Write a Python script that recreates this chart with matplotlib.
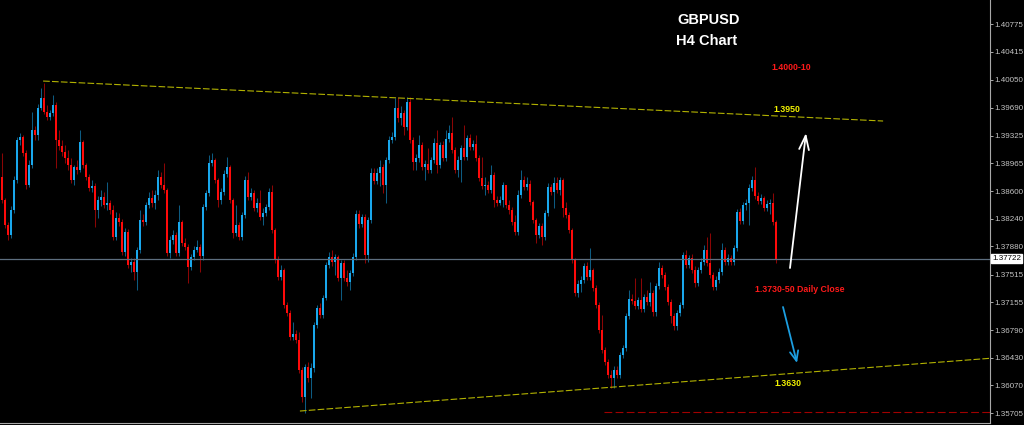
import numpy as np
import matplotlib.pyplot as plt

# GBPUSD H4 candles
opens = [
    1.3879, 1.3849, 1.3816, 1.3803, 1.3836, 1.3875, 1.3927, 1.3931, 1.3910, 1.3868,
    1.3894, 1.3940, 1.3933, 1.3969, 1.3982, 1.3963, 1.3957, 1.3962, 1.3972, 1.3927,
    1.3919, 1.3911, 1.3903, 1.3894, 1.3875, 1.3892, 1.3888, 1.3924, 1.3894, 1.3879,
    1.3864, 1.3867, 1.3836, 1.3849, 1.3853, 1.3842, 1.3845, 1.3836, 1.3800, 1.3825,
    1.3820, 1.3781, 1.3807, 1.3764, 1.3768, 1.3755, 1.3784, 1.3823, 1.3820, 1.3842,
    1.3851, 1.3845, 1.3855, 1.3879, 1.3868, 1.3862, 1.3780, 1.3797, 1.3803, 1.3780,
    1.3820, 1.3793, 1.3787, 1.3761, 1.3774, 1.3784, 1.3787, 1.3776, 1.3840, 1.3858,
    1.3897, 1.3901, 1.3875, 1.3849, 1.3859, 1.3883, 1.3892, 1.3849, 1.3806, 1.3816,
    1.3800, 1.3829, 1.3875, 1.3853, 1.3858, 1.3838, 1.3845, 1.3827, 1.3832, 1.3840,
    1.3859, 1.3810, 1.3771, 1.3748, 1.3757, 1.3712, 1.3701, 1.3670, 1.3674, 1.3666,
    1.3627, 1.3592, 1.3631, 1.3617, 1.3630, 1.3686, 1.3708, 1.3699, 1.3721, 1.3764,
    1.3774, 1.3768, 1.3774, 1.3747, 1.3767, 1.3747, 1.3742, 1.3754, 1.3774, 1.3830,
    1.3817, 1.3827, 1.3777, 1.3823, 1.3884, 1.3873, 1.3884, 1.3892, 1.3868, 1.3901,
    1.3927, 1.3931, 1.3969, 1.3956, 1.3962, 1.3944, 1.3976, 1.3927, 1.3898, 1.3903,
    1.3920, 1.3892, 1.3896, 1.3888, 1.3901, 1.3923, 1.3894, 1.3920, 1.3903, 1.3928,
    1.3936, 1.3914, 1.3888, 1.3901, 1.3916, 1.3905, 1.3929, 1.3918, 1.3922, 1.3903,
    1.3877, 1.3867, 1.3868, 1.3862, 1.3881, 1.3849, 1.3845, 1.3849, 1.3868, 1.3842,
    1.3836, 1.3820, 1.3807, 1.3855, 1.3875, 1.3866, 1.3870, 1.3846, 1.3823, 1.3803,
    1.3815, 1.3800, 1.3832, 1.3866, 1.3859, 1.3871, 1.3862, 1.3875, 1.3838, 1.3829,
    1.3810, 1.3771, 1.3728, 1.3739, 1.3744, 1.3763, 1.3748, 1.3757, 1.3734, 1.3712,
    1.3679, 1.3653, 1.3638, 1.3621, 1.3617, 1.3627, 1.3621, 1.3647, 1.3656, 1.3698,
    1.3720, 1.3717, 1.3711, 1.3718, 1.3707, 1.3722, 1.3716, 1.3728, 1.3703, 1.3737,
    1.3760, 1.3751, 1.3735, 1.3716, 1.3698, 1.3685, 1.3701, 1.3712, 1.3777, 1.3764,
    1.3773, 1.3757, 1.3741, 1.3757, 1.3768, 1.3784, 1.3767, 1.3751, 1.3735, 1.3744,
    1.3755, 1.3784, 1.3768, 1.3773, 1.3768, 1.3786, 1.3833, 1.3821, 1.3842, 1.3845,
    1.3864, 1.3875, 1.3854, 1.3847, 1.3851, 1.3838, 1.3843, 1.3845, 1.3820,
]
closes = [
    1.3849, 1.3816, 1.3803, 1.3836, 1.3875, 1.3927, 1.3931, 1.3910, 1.3868, 1.3894,
    1.3940, 1.3933, 1.3969, 1.3982, 1.3963, 1.3957, 1.3962, 1.3972, 1.3927, 1.3919,
    1.3911, 1.3903, 1.3894, 1.3875, 1.3892, 1.3888, 1.3924, 1.3894, 1.3879, 1.3864,
    1.3867, 1.3836, 1.3849, 1.3853, 1.3842, 1.3845, 1.3836, 1.3800, 1.3825, 1.3820,
    1.3781, 1.3807, 1.3764, 1.3768, 1.3755, 1.3784, 1.3823, 1.3820, 1.3842, 1.3851,
    1.3845, 1.3855, 1.3879, 1.3868, 1.3862, 1.3780, 1.3797, 1.3803, 1.3780, 1.3820,
    1.3793, 1.3787, 1.3761, 1.3774, 1.3784, 1.3787, 1.3776, 1.3840, 1.3858, 1.3897,
    1.3901, 1.3875, 1.3849, 1.3859, 1.3883, 1.3892, 1.3849, 1.3806, 1.3816, 1.3800,
    1.3829, 1.3875, 1.3853, 1.3858, 1.3838, 1.3845, 1.3827, 1.3832, 1.3840, 1.3859,
    1.3810, 1.3771, 1.3748, 1.3757, 1.3712, 1.3701, 1.3670, 1.3674, 1.3666, 1.3627,
    1.3592, 1.3631, 1.3617, 1.3630, 1.3686, 1.3708, 1.3699, 1.3721, 1.3764, 1.3774,
    1.3768, 1.3774, 1.3747, 1.3767, 1.3747, 1.3742, 1.3754, 1.3774, 1.3830, 1.3817,
    1.3827, 1.3777, 1.3823, 1.3884, 1.3873, 1.3884, 1.3892, 1.3868, 1.3901, 1.3927,
    1.3931, 1.3969, 1.3956, 1.3962, 1.3944, 1.3976, 1.3927, 1.3898, 1.3903, 1.3920,
    1.3892, 1.3896, 1.3888, 1.3901, 1.3923, 1.3894, 1.3920, 1.3903, 1.3928, 1.3936,
    1.3914, 1.3888, 1.3901, 1.3916, 1.3905, 1.3929, 1.3918, 1.3922, 1.3903, 1.3877,
    1.3867, 1.3868, 1.3862, 1.3881, 1.3849, 1.3845, 1.3849, 1.3868, 1.3842, 1.3836,
    1.3820, 1.3807, 1.3855, 1.3875, 1.3866, 1.3870, 1.3846, 1.3823, 1.3803, 1.3815,
    1.3800, 1.3832, 1.3866, 1.3859, 1.3871, 1.3862, 1.3875, 1.3838, 1.3829, 1.3810,
    1.3771, 1.3728, 1.3739, 1.3744, 1.3763, 1.3748, 1.3757, 1.3734, 1.3712, 1.3679,
    1.3653, 1.3638, 1.3621, 1.3617, 1.3627, 1.3621, 1.3647, 1.3656, 1.3698, 1.3720,
    1.3717, 1.3711, 1.3718, 1.3707, 1.3722, 1.3716, 1.3728, 1.3703, 1.3737, 1.3760,
    1.3751, 1.3735, 1.3716, 1.3698, 1.3685, 1.3701, 1.3712, 1.3777, 1.3764, 1.3773,
    1.3757, 1.3741, 1.3757, 1.3768, 1.3784, 1.3767, 1.3751, 1.3735, 1.3744, 1.3755,
    1.3784, 1.3768, 1.3773, 1.3768, 1.3786, 1.3833, 1.3821, 1.3842, 1.3845, 1.3864,
    1.3875, 1.3854, 1.3847, 1.3851, 1.3838, 1.3843, 1.3845, 1.3820, 1.37722,
]
highs = [
    1.3910, 1.3851, 1.3820, 1.3841, 1.3880, 1.3931, 1.3936, 1.3933, 1.3914, 1.3901,
    1.3963, 1.3945, 1.3974, 1.3995, 1.4001, 1.3972, 1.3966, 1.3986, 1.3976, 1.3940,
    1.3927, 1.3920, 1.3914, 1.3903, 1.3894, 1.3901, 1.3940, 1.3927, 1.3897, 1.3883,
    1.3875, 1.3871, 1.3854, 1.3862, 1.3859, 1.3872, 1.3849, 1.3842, 1.3833, 1.3832,
    1.3824, 1.3812, 1.3811, 1.3773, 1.3773, 1.3787, 1.3836, 1.3830, 1.3846, 1.3859,
    1.3862, 1.3862, 1.3888, 1.3885, 1.3897, 1.3864, 1.3802, 1.3810, 1.3807, 1.3842,
    1.3823, 1.3799, 1.3791, 1.3778, 1.3789, 1.3797, 1.3791, 1.3843, 1.3862, 1.3907,
    1.3910, 1.3903, 1.3877, 1.3864, 1.3888, 1.3905, 1.3894, 1.3851, 1.3842, 1.3820,
    1.3833, 1.3880, 1.3885, 1.3864, 1.3862, 1.3851, 1.3862, 1.3838, 1.3843, 1.3864,
    1.3868, 1.3812, 1.3776, 1.3764, 1.3760, 1.3716, 1.3705, 1.3690, 1.3679, 1.3677,
    1.3631, 1.3635, 1.3638, 1.3636, 1.3690, 1.3712, 1.3714, 1.3725, 1.3768, 1.3781,
    1.3784, 1.3778, 1.3777, 1.3771, 1.3771, 1.3757, 1.3757, 1.3780, 1.3836, 1.3836,
    1.3830, 1.3830, 1.3827, 1.3890, 1.3890, 1.3890, 1.3901, 1.3896, 1.3905, 1.3932,
    1.3937, 1.3982, 1.3983, 1.3971, 1.3966, 1.3983, 1.3983, 1.3931, 1.3909, 1.3933,
    1.3924, 1.3901, 1.3916, 1.3905, 1.3929, 1.3940, 1.3924, 1.3926, 1.3940, 1.3946,
    1.3957, 1.3918, 1.3906, 1.3920, 1.3946, 1.3933, 1.3935, 1.3927, 1.3933, 1.3907,
    1.3905, 1.3879, 1.3873, 1.3894, 1.3885, 1.3854, 1.3854, 1.3872, 1.3868, 1.3849,
    1.3840, 1.3829, 1.3862, 1.3888, 1.3880, 1.3879, 1.3875, 1.3849, 1.3825, 1.3819,
    1.3819, 1.3836, 1.3871, 1.3870, 1.3879, 1.3879, 1.3879, 1.3877, 1.3846, 1.3833,
    1.3812, 1.3773, 1.3744, 1.3750, 1.3767, 1.3768, 1.3786, 1.3760, 1.3738, 1.3716,
    1.3699, 1.3657, 1.3641, 1.3627, 1.3632, 1.3632, 1.3651, 1.3660, 1.3701, 1.3731,
    1.3726, 1.3747, 1.3722, 1.3747, 1.3726, 1.3731, 1.3742, 1.3731, 1.3741, 1.3768,
    1.3764, 1.3755, 1.3739, 1.3720, 1.3701, 1.3705, 1.3716, 1.3781, 1.3784, 1.3777,
    1.3778, 1.3763, 1.3761, 1.3773, 1.3790, 1.3800, 1.3806, 1.3755, 1.3750, 1.3760,
    1.3793, 1.3787, 1.3778, 1.3777, 1.3790, 1.3837, 1.3838, 1.3846, 1.3850, 1.3870,
    1.3880, 1.3892, 1.3859, 1.3857, 1.3854, 1.3849, 1.3850, 1.3858, 1.3823,
]
lows = [
    1.3845, 1.3812, 1.3797, 1.3799, 1.3832, 1.3871, 1.3920, 1.3906, 1.3863, 1.3866,
    1.3890, 1.3927, 1.3927, 1.3966, 1.3961, 1.3953, 1.3953, 1.3958, 1.3890, 1.3914,
    1.3906, 1.3897, 1.3888, 1.3871, 1.3868, 1.3883, 1.3885, 1.3890, 1.3875, 1.3860,
    1.3859, 1.3814, 1.3825, 1.3841, 1.3838, 1.3836, 1.3830, 1.3797, 1.3797, 1.3815,
    1.3777, 1.3776, 1.3760, 1.3755, 1.3744, 1.3731, 1.3780, 1.3815, 1.3816, 1.3838,
    1.3840, 1.3837, 1.3849, 1.3864, 1.3858, 1.3776, 1.3773, 1.3791, 1.3776, 1.3776,
    1.3789, 1.3784, 1.3741, 1.3757, 1.3771, 1.3781, 1.3755, 1.3771, 1.3836, 1.3854,
    1.3893, 1.3871, 1.3840, 1.3843, 1.3855, 1.3879, 1.3845, 1.3799, 1.3802, 1.3797,
    1.3797, 1.3825, 1.3849, 1.3849, 1.3834, 1.3833, 1.3823, 1.3816, 1.3828, 1.3836,
    1.3806, 1.3767, 1.3744, 1.3744, 1.3708, 1.3698, 1.3666, 1.3666, 1.3662, 1.3623,
    1.3585, 1.3571, 1.3611, 1.3591, 1.3624, 1.3682, 1.3695, 1.3695, 1.3718, 1.3760,
    1.3763, 1.3751, 1.3743, 1.3718, 1.3743, 1.3737, 1.3731, 1.3750, 1.3771, 1.3812,
    1.3814, 1.3767, 1.3768, 1.3819, 1.3870, 1.3870, 1.3867, 1.3858, 1.3845, 1.3897,
    1.3923, 1.3927, 1.3950, 1.3946, 1.3933, 1.3940, 1.3923, 1.3888, 1.3888, 1.3898,
    1.3888, 1.3875, 1.3884, 1.3884, 1.3897, 1.3884, 1.3890, 1.3900, 1.3900, 1.3924,
    1.3910, 1.3884, 1.3879, 1.3872, 1.3901, 1.3901, 1.3914, 1.3914, 1.3900, 1.3873,
    1.3863, 1.3855, 1.3858, 1.3858, 1.3840, 1.3841, 1.3842, 1.3840, 1.3838, 1.3830,
    1.3816, 1.3803, 1.3803, 1.3851, 1.3862, 1.3862, 1.3842, 1.3819, 1.3793, 1.3799,
    1.3790, 1.3797, 1.3828, 1.3855, 1.3838, 1.3858, 1.3855, 1.3827, 1.3825, 1.3806,
    1.3767, 1.3724, 1.3722, 1.3729, 1.3741, 1.3744, 1.3744, 1.3730, 1.3708, 1.3675,
    1.3649, 1.3634, 1.3617, 1.3604, 1.3604, 1.3617, 1.3617, 1.3643, 1.3652, 1.3694,
    1.3713, 1.3707, 1.3707, 1.3703, 1.3703, 1.3712, 1.3711, 1.3698, 1.3698, 1.3733,
    1.3747, 1.3731, 1.3712, 1.3688, 1.3679, 1.3679, 1.3698, 1.3708, 1.3760, 1.3760,
    1.3754, 1.3735, 1.3737, 1.3754, 1.3764, 1.3763, 1.3747, 1.3731, 1.3731, 1.3741,
    1.3751, 1.3764, 1.3764, 1.3764, 1.3764, 1.3782, 1.3817, 1.3817, 1.3836, 1.3816,
    1.3860, 1.3850, 1.3843, 1.3843, 1.3834, 1.3834, 1.3830, 1.3816, 1.3767,
]

price_ticks = [1.40775, 1.40415, 1.40050, 1.39690, 1.39325, 1.38965, 1.38600, 1.38240,
               1.37880, 1.37515, 1.37155, 1.36790, 1.36430, 1.36070, 1.35705]
last_price = 1.37722

# drawn trend lines: (bar index, price)
upper_line_x = [13.7, 293.7]
upper_line_y = [1.40036, 1.39515]
lower_line_x = [99.3, 329.3]
lower_line_y = [1.35736, 1.36423]
support_x = [200.7, 329.3]
support_y = [1.3572, 1.3572]

W, H = 1024, 425
fig = plt.figure(figsize=(W / 100, H / 100), dpi=100, facecolor='black')
ax = fig.add_axes([0, 2 / H, 990 / W, 423 / H])
ax.set_facecolor('black')

o = np.array(opens)
c = np.array(closes)
h = np.array(highs)
l = np.array(lows)
x = np.arange(len(c))
up = c >= o

blue = '#19a7ec'
red = '#ff0a0a'
for mask, col in ((up, blue), (~up, red)):
    ax.vlines(x[mask], l[mask], h[mask], color=col, lw=0.75, alpha=0.55)
    body = np.maximum(np.abs(c[mask] - o[mask]), 0.00003)
    ax.bar(x[mask], body, bottom=np.minimum(o, c)[mask], width=0.8,
           color=col, linewidth=0)

ax.axhline(last_price, color='#5d6e7f', lw=0.9)

ax.plot(upper_line_x, upper_line_y, color='#b2b200', lw=0.8, dashes=(6, 2))
ax.plot(lower_line_x, lower_line_y, color='#b2b200', lw=0.8, dashes=(6, 2))
ax.plot(support_x, support_y, color='#a00000', lw=0.8, dashes=(7, 3))

ax.set_xlim(-2 / 3, 329.33)
ax.set_ylim(1.35580, 1.41092)
ax.set_xticks([])
ax.yaxis.tick_right()
ax.set_yticks(price_ticks)
ax.set_yticklabels([f'{v:.5f}' for v in price_ticks], family='Liberation Sans')
ax.tick_params(axis='y', colors='#c4c4c4', labelsize=5.8, length=2, width=0.6, pad=1)
for side in ('left', 'top'):
    ax.spines[side].set_visible(False)
for side in ('right', 'bottom'):
    ax.spines[side].set_color('#a8a8a8')
    ax.spines[side].set_linewidth(0.8)

ax.text(1.002, last_price, f'{last_price:.5f}', transform=ax.get_yaxis_transform(),
        ha='left', va='center', fontsize=5.8, color='black', family='Liberation Sans',
        bbox=dict(boxstyle='square,pad=0.15', fc='white', ec='white'))


def fpos(px, py):
    return px / W, 1 - py / H


labels = [
    ('GBPUSD', 709, 20.5, 'white', 10.5),
    ('H4 Chart', 707, 41, 'white', 10.5),
    ('1.4000-10', 791, 67, '#ff1a1a', 6.3),
    ('1.3950', 786.5, 110, '#f2f200', 6.3),
    ('1.3730-50 Daily Close', 800, 290, '#ff1a1a', 6.3),
    ('1.3630', 787.5, 383, '#f2f200', 6.3),
]
for txt, px, py, col, size in labels:
    fx, fy = fpos(px, py)
    fig.text(fx, fy, txt, color=col, fontsize=size, fontweight='bold',
             family='Liberation Sans', ha='center', va='center')

ax.annotate('', xy=fpos(806, 133), xytext=fpos(790, 268), xycoords='figure fraction',
            textcoords='figure fraction',
            arrowprops=dict(arrowstyle='->,head_length=1.0,head_width=0.35',
                            color='white', lw=1.3, shrinkA=0, shrinkB=0))
ax.annotate('', xy=fpos(797, 363), xytext=fpos(783, 307), xycoords='figure fraction',
            textcoords='figure fraction',
            arrowprops=dict(arrowstyle='->,head_length=0.7,head_width=0.3',
                            color='#1c9ee0', lw=1.3, shrinkA=0, shrinkB=0))

fig.savefig('out.png', dpi=100, facecolor='black')
